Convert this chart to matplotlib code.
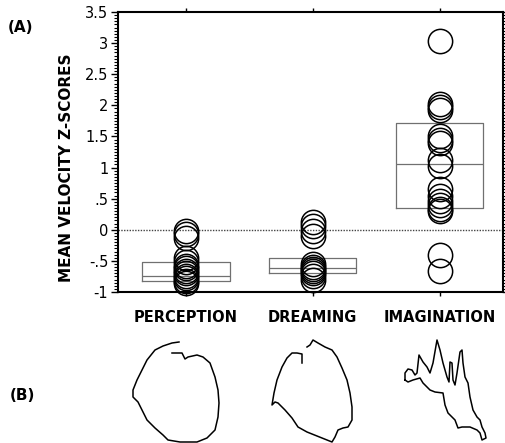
import matplotlib
matplotlib.use("Agg")
import matplotlib.pyplot as plt
import numpy as np

# --- data -------------------------------------------------------------
categories = ["PERCEPTION", "DREAMING", "IMAGINATION"]

perception = [-0.02, -0.07, -0.13, -0.45, -0.52, -0.58, -0.62, -0.66,
              -0.70, -0.74, -0.78, -0.82, -0.86]
dreaming = [0.12, 0.06, -0.02, -0.10, -0.55, -0.60, -0.63, -0.66,
            -0.70, -0.74, -0.80]
imagination = [3.03, 2.02, 1.97, 1.92, 1.50, 1.45, 1.40, 1.12, 1.02,
               0.65, 0.55, 0.47, 0.40, 0.34, 0.30, -0.40, -0.67]

box_q1 = [-0.83, -0.70, 0.35]
box_med = [-0.74, -0.62, 1.06]
box_q3 = [-0.51, -0.45, 1.72]

ytick_vals = [-1, -0.5, 0, 0.5, 1, 1.5, 2, 2.5, 3, 3.5]
ytick_labels = ["-1", "-.5", "0", ".5", "1", "1.5", "2", "2.5", "3", "3.5"]

# eye-movement scan paths (page coordinates, y downward)
path_perception_x = [179, 172, 163, 155, 147, 142, 137, 133, 133, 138, 142,
                     147, 155, 163, 168, 180, 197, 207, 215, 218, 219, 218,
                     215, 210, 203, 197, 188, 185, 182, 177, 172]
path_perception_y = [342, 343, 346, 350, 360, 370, 380, 390, 397, 402, 410,
                     420, 428, 435, 440, 442, 442, 438, 430, 417, 403, 390,
                     377, 363, 357, 355, 357, 359, 353, 353, 353]

path_dreaming_x = [302, 302, 297, 292, 287, 282, 277, 274, 272, 275, 278,
                   285, 292, 298, 307, 317, 327, 332, 335, 338, 343, 348,
                   352, 352, 350, 347, 342, 337, 332, 325, 318, 313, 310, 307]
path_dreaming_y = [363, 354, 353, 353, 358, 367, 380, 393, 405, 402, 403,
                   410, 418, 427, 432, 436, 440, 442, 437, 430, 428, 427,
                   420, 407, 393, 380, 368, 357, 350, 347, 343, 340, 345, 347]

path_imagination_x = [405, 405, 408, 412, 415, 417, 419, 423, 427, 430, 433,
                      437, 440, 443, 447, 449, 450, 452, 453, 455, 457, 460,
                      462, 463, 465, 468, 470, 473, 477, 480, 482, 485, 486,
                      482, 480, 477, 470, 462, 458, 455, 448, 445, 443, 435,
                      430, 423, 420, 413, 408, 405]
path_imagination_y = [380, 373, 369, 370, 375, 373, 355, 362, 367, 373, 363,
                      340, 350, 363, 377, 382, 362, 363, 380, 385, 373, 352,
                      350, 363, 377, 383, 397, 410, 417, 420, 427, 433, 438,
                      440, 433, 430, 427, 427, 428, 420, 413, 405, 393, 392,
                      390, 383, 378, 380, 382, 380]

# --- figure -----------------------------------------------------------
W, H = 506, 443
fig = plt.figure(figsize=(W / 100, H / 100), dpi=100)
ax = fig.add_axes([118 / W, 1 - 292 / H, (503 - 118) / W, (292 - 12) / H])

positions = [1, 2, 3]
groups = [perception, dreaming, imagination]

# boxes (quartiles + median, no whiskers)
stats = []
for q1, m, q3 in zip(box_q1, box_med, box_q3):
    stats.append(dict(q1=q1, med=m, q3=q3, whislo=q1, whishi=q3, fliers=[]))
box_col = "#707070"
ax.bxp(stats, positions=positions, widths=0.69, showcaps=False,
       showfliers=False,
       boxprops=dict(color=box_col, lw=0.9),
       medianprops=dict(color=box_col, lw=0.9),
       whiskerprops=dict(color=box_col, lw=0.0))

# individual scores as open circles
for p, vals in zip(positions, groups):
    ax.plot([p] * len(vals), vals, linestyle="none", marker="o",
            markersize=17.5, markerfacecolor="none", markeredgecolor="black",
            markeredgewidth=1.1, zorder=3, clip_on=False)

ax.axhline(0, color="#444444", lw=1.0, linestyle=(0, (1, 1)), zorder=1)

ax.set_xlim(0.465, 3.5)
ax.set_ylim(-1, 3.5)
ax.set_xticks(positions)
ax.set_xticklabels(categories, fontweight="bold", fontsize=10.5)
ax.set_yticks(ytick_vals)
ax.set_yticklabels(ytick_labels, fontsize=10.5)
ax.set_yticks(np.arange(-1, 3.5001, 0.05), minor=True)

ax.tick_params(axis="y", which="major", direction="out", length=5, width=1.0,
               left=True, right=True, pad=2)
ax.tick_params(axis="y", which="minor", direction="out", length=3, width=0.8,
               left=True, right=True)
ax.tick_params(axis="x", which="major", direction="out", length=3, width=1.0,
               top=True, bottom=True, pad=10)
for s in ax.spines.values():
    s.set_linewidth(1.5)

ax.set_ylabel("MEAN VELOCITY Z-SCORES", fontweight="bold", fontsize=11)
ax.yaxis.set_label_coords(-0.113, 0.443)

fig.text(8 / W, 1 - 27 / H, "(A)", fontweight="bold", fontsize=11,
         va="center", ha="left")
fig.text(10 / W, 1 - 395 / H, "(B)", fontweight="bold", fontsize=11,
         va="center", ha="left")

# scan-path panel
ax2 = fig.add_axes([0, 0, 1, 1])
ax2.set_xlim(0, W)
ax2.set_ylim(H, 0)
ax2.axis("off")
ax2.patch.set_visible(False)
for px, py in [(path_perception_x, path_perception_y),
               (path_dreaming_x, path_dreaming_y),
               (path_imagination_x, path_imagination_y)]:
    ax2.plot(px, py, color="black", lw=1.1, solid_joinstyle="round")

fig.savefig("out.png", dpi=100)
